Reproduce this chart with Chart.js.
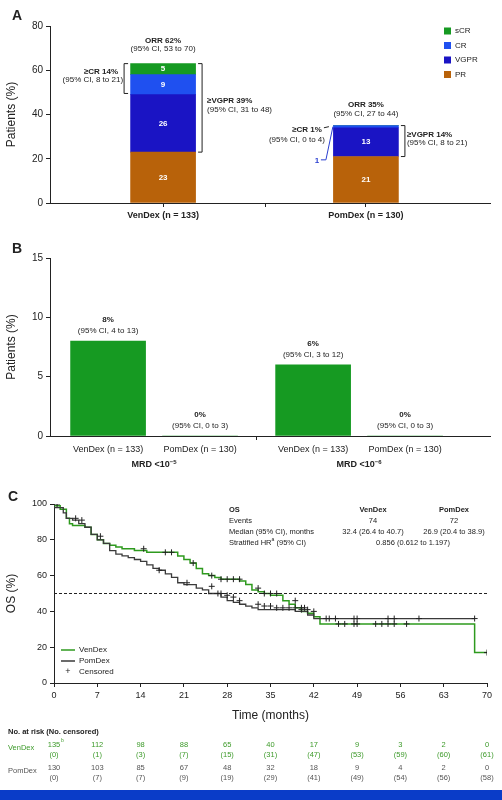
<!DOCTYPE html><html><head><meta charset="utf-8">
<script src="https://cdn.jsdelivr.net/npm/chart.js@4"></script>
<style>body{margin:0;background:#fff;width:502px;height:800px;position:relative;overflow:hidden;font-family:"Liberation Sans",Arial,sans-serif}
canvas{position:absolute;left:0}#bar{position:absolute;left:0;top:790px;width:502px;height:10px;background:#0a3cc8}</style></head><body>
<div style="position:absolute;top:0;width:502px;height:240px"><canvas id="a"></canvas></div>
<div style="position:absolute;top:240px;width:502px;height:250px"><canvas id="b"></canvas></div>
<div style="position:absolute;top:490px;width:502px;height:300px"><canvas id="c"></canvas></div>
<div id="bar"></div>
<script>
// Panel A data
const armsA=['VenDex (n = 133)','PomDex (n = 130)'];
const posA=[0.257,0.718];
const PR=[23,21], VGPR=[26,13], CR=[9,1], sCR=[5,0];
// Panel B data
const labelsB=['VenDex (n = 133)','PomDex (n = 130)','VenDex (n = 133)','PomDex (n = 130)'];
const posB=[0.132,0.341,0.598,0.807];
const mrd=[8,0,6,0];
const mrdCI=['(95% CI, 4 to 13)','(95% CI, 0 to 3)','(95% CI, 3 to 12)','(95% CI, 0 to 3)'];
// Panel C data
const venT=[0,1,2,2.5,3,5,6,7,8,9,10,11,13,15,16,20,21,22,23,24,25,26,27,28,30,31,32,33,34,35,37,38,39,40,41,42,43,45,68,68.5,70];
const venS=[100,99,97,92,89,88,87,83,80,78,77,76,75,74,73,73,71,69,67,64,61,60,59,58,58,57,55,52,51,50,49,46,44,42,40,39,37,33,33,17,17];
const pomT=[0,1.5,2,3,4,5,6,7,8,9,10,11,12,13,14,15,16,17,18,19,20,21,23,24,25,26,27,28,29,30,31,32,33,35,39,40,41,42,43,68];
const pomS=[100,98,95,92,91,89,87,83,80,78,74,72,71,70,69,68,66,64,63,61,59,56,55,53,52,50,50,48,46,45,44,43,42,41,41,40,40,38,36,36];
const venCT=[0.5,14.5,18,19,22.5,25.5,27,28,29,30,33,34,35,36,39,40,44,46,47,48.5,49,52,53,54,55,57,70];
const venCS=[100,75,73,73,67,60,58,58,58,58,53,50,50,50,46,42,36,33,33,33,33,33,33,33,33,33,17];
const pomCT=[3.5,4.5,7.5,17,21.5,25.5,26.5,27,28,29,30,33,34,35,36,37,38,39,40,40.5,41,42,44.5,45.5,48.5,49,54,55,59,68];
const pomCS=[92,91,82,63,56,54,50,50,49,48,46,44,43,43,42,42,42,42,41,42,41,40,36,36,36,36,36,36,36,36];
const ticksC=[0,7,14,21,28,35,42,49,56,63,70];
const riskVen=['135','112','98','88','65','40','17','9','3','2','0'];
const censVen=['(0)','(1)','(3)','(7)','(15)','(31)','(47)','(53)','(59)','(60)','(61)'];
const riskPom=['130','103','85','67','48','32','18','9','4','2','0'];
const censPom=['(0)','(7)','(7)','(9)','(19)','(29)','(41)','(49)','(54)','(56)','(58)'];

const F='"Liberation Sans",Arial,sans-serif';
Chart.defaults.font.family=F;Chart.defaults.color='#222';
Chart.defaults.animation=false;
const axisGrid={drawOnChartArea:false,color:'#222',tickLength:4,tickColor:'#222',offset:false};
function txt(ctx,s,x,y,o={}){ctx.save();ctx.font=(o.b?'bold ':'')+(o.s||8)+'px '+F;ctx.fillStyle=o.c||'#222';ctx.textAlign=o.a||'center';ctx.textBaseline='middle';ctx.fillText(s,x,y);ctx.restore();}
function bracket(ctx,x,y1,y2,dir,col){ctx.save();ctx.strokeStyle=col||'#222';ctx.lineWidth=1;ctx.beginPath();ctx.moveTo(x,y1);ctx.lineTo(x+dir*4,y1);ctx.lineTo(x+dir*4,y2);ctx.lineTo(x,y2);ctx.stroke();ctx.restore();}

// Panel A
new Chart(document.getElementById('a'),{type:'bar',
data:{datasets:[
{label:'PR',data:posA.map((x,i)=>({x,y:PR[i]})),backgroundColor:'#b8620a'},
{label:'VGPR',data:posA.map((x,i)=>({x,y:VGPR[i]})),backgroundColor:'#1a14c4'},
{label:'CR',data:posA.map((x,i)=>({x,y:CR[i]})),backgroundColor:'#1f50f0'},
{label:'sCR',data:posA.map((x,i)=>({x,y:sCR[i]})),backgroundColor:'#169a22'}]},
options:{responsive:true,maintainAspectRatio:false,barThickness:65,layout:{padding:{top:26,right:12,left:0,bottom:0}},
plugins:{legend:{display:false},tooltip:{enabled:false}},
scales:{x:{type:'linear',offset:false,stacked:true,min:0,max:1,grid:axisGrid,border:{color:'#222'},
 afterBuildTicks:s=>{s.ticks=[{value:posA[0]},{value:0.49},{value:posA[1]}];},
 ticks:{font:{size:9,weight:'bold'},color:'#222',callback:v=>v===posA[0]?armsA[0]:v===posA[1]?armsA[1]:''},afterFit:s=>{s.height=37;}},
 y:{stacked:true,min:0,max:80,grid:axisGrid,border:{color:'#222'},ticks:{stepSize:20,font:{size:10}},
 title:{display:true,text:'Patients (%)',font:{size:12}},afterFit:s=>{s.width=50;}}}},
plugins:[{id:'annA',afterDraw(ch){const c=ch.ctx,X=ch.scales.x,Y=ch.scales.y;
 txt(c,'A',12,16,{b:true,s:14,a:'left'});
 const seg=[['PR',PR],['VGPR',VGPR],['CR',CR],['sCR',sCR]];
 posA.forEach((p,i)=>{let acc=0;const x=X.getPixelForValue(p);seg.forEach(([n,arr])=>{const v=arr[i];if(v>=3)txt(c,String(v),x,Y.getPixelForValue(acc+v/2),{b:true,s:8,c:'#fff'});acc+=v;});});
 const v0=X.getPixelForValue(posA[0]),v1=X.getPixelForValue(posA[1]),hw=33;
 txt(c,'ORR 62%',v0,Y.getPixelForValue(73.5),{b:true});txt(c,'(95% CI, 53 to 70)',v0,Y.getPixelForValue(69.5));
 bracket(c,v0-hw-2,Y.getPixelForValue(63),Y.getPixelForValue(49.5),-1);
 txt(c,'≥CR 14%',v0-hw-12,Y.getPixelForValue(59.5),{b:true,a:'right'});txt(c,'(95% CI, 8 to 21)',v0-hw-7,Y.getPixelForValue(55.5),{a:'right'});
 bracket(c,v0+hw+2,Y.getPixelForValue(63),Y.getPixelForValue(23),1);
 txt(c,'≥VGPR 39%',v0+hw+11,Y.getPixelForValue(46),{b:true,a:'left'});txt(c,'(95% CI, 31 to 48)',v0+hw+11,Y.getPixelForValue(42),{a:'left'});
 txt(c,'ORR 35%',v1,Y.getPixelForValue(44.5),{b:true});txt(c,'(95% CI, 27 to 44)',v1,Y.getPixelForValue(40.5));
 bracket(c,v1+hw+2,Y.getPixelForValue(35),Y.getPixelForValue(21),1);
 txt(c,'≥VGPR 14%',v1+hw+8,Y.getPixelForValue(31),{b:true,a:'left'});txt(c,'(95% CI, 8 to 21)',v1+hw+8,Y.getPixelForValue(27),{a:'left'});
 txt(c,'≥CR 1%',v1-hw-11,Y.getPixelForValue(33),{b:true,a:'right'});txt(c,'(95% CI, 0 to 4)',v1-hw-8,Y.getPixelForValue(28.5),{a:'right'});
 c.save();c.strokeStyle='#222';c.beginPath();c.moveTo(v1-hw-9,Y.getPixelForValue(34));c.lineTo(v1-hw-4,Y.getPixelForValue(34.5));c.stroke();
 c.strokeStyle='#2a3fd0';c.beginPath();c.moveTo(v1-hw-12,Y.getPixelForValue(19.5));c.lineTo(v1-hw-7,Y.getPixelForValue(19.5));c.lineTo(v1-hw,Y.getPixelForValue(34.5));c.stroke();c.restore();
 txt(c,'1',v1-hw-16,Y.getPixelForValue(19),{b:true,c:'#2a3fd0'});
 [['sCR','#169a22'],['CR','#1f50f0'],['VGPR','#1a14c4'],['PR','#b8620a']].forEach(([n,col],k)=>{const y=31+k*14.5;c.fillStyle=col;c.fillRect(444,y-3.5,7,7);txt(c,n,455,y,{a:'left',s:8});});
}}]});

// Panel B
new Chart(document.getElementById('b'),{type:'bar',
data:{datasets:[{data:posB.map((x,i)=>({x,y:mrd[i]})),backgroundColor:'#169a22'}]},
options:{responsive:true,maintainAspectRatio:false,barThickness:75,layout:{padding:{top:18,right:12,left:0,bottom:0}},
plugins:{legend:{display:false},tooltip:{enabled:false}},
scales:{x:{type:'linear',offset:false,min:0,max:1,grid:axisGrid,border:{color:'#222'},
 afterBuildTicks:s=>{s.ticks=[{value:0.47}];},ticks:{display:false},afterFit:s=>{s.height=54;}},
 y:{min:0,max:15,grid:axisGrid,border:{color:'#222'},ticks:{stepSize:5,font:{size:10}},
 title:{display:true,text:'Patients (%)',font:{size:12}},afterFit:s=>{s.width=50;}}}},
plugins:[{id:'annB',afterDraw(ch){const c=ch.ctx,X=ch.scales.x,Y=ch.scales.y;
 txt(c,'B',12,9,{b:true,s:14,a:'left'});
 posB.forEach((p,i)=>{const x=X.getPixelForValue(p),yb=Y.getPixelForValue(mrd[i]);
  txt(c,mrd[i]+'%',x,yb-21,{b:true});txt(c,mrdCI[i],x,yb-10);txt(c,labelsB[i],x,Y.bottom+14,{s:9});});
 const m1=(X.getPixelForValue(posB[0])+X.getPixelForValue(posB[1]))/2,m2=(X.getPixelForValue(posB[2])+X.getPixelForValue(posB[3]))/2;
 [[m1,'5'],[m2,'6']].forEach(([m,e])=>{c.save();c.font='bold 9px '+F;const w=c.measureText('MRD <10').width;c.font='bold 6px '+F;const w2=c.measureText('−'+e).width;c.restore();
  const x0=m-(w+w2)/2;txt(c,'MRD <10',x0,Y.bottom+29,{b:true,s:9,a:'left'});txt(c,'−'+e,x0+w,Y.bottom+26,{b:true,s:6,a:'left'});});
}}]});

// Panel C
const pts=(T,S)=>T.map((t,i)=>({x:t,y:S[i]}));
new Chart(document.getElementById('c'),{type:'line',
data:{datasets:[
{data:pts(venT,venS),borderColor:'#2e9a1e',borderWidth:1.5,stepped:'after',pointRadius:0,order:2},
{data:pts(pomT,pomS),borderColor:'#3a3a3a',borderWidth:1.3,stepped:'after',pointRadius:0,order:1},
{data:pts(venCT,venCS),showLine:false,pointStyle:'cross',pointRadius:3,borderColor:'#222',borderWidth:1},
{data:pts(pomCT,pomCS),showLine:false,pointStyle:'cross',pointRadius:3,borderColor:'#222',borderWidth:1}]},
options:{responsive:true,maintainAspectRatio:false,layout:{padding:{top:14,right:15,left:0,bottom:0}},
plugins:{legend:{display:false},tooltip:{enabled:false}},
scales:{x:{type:'linear',min:0,max:70,grid:axisGrid,border:{color:'#222'},afterBuildTicks:s=>{s.ticks=ticksC.map(v=>({value:v}));},
 ticks:{font:{size:9},color:'#222',maxRotation:0},afterFit:s=>{s.height=107;}},
 y:{min:0,max:100,grid:axisGrid,border:{color:'#222'},ticks:{stepSize:20,font:{size:9}},
 title:{display:true,text:'OS (%)',font:{size:12}},afterFit:s=>{s.width=54;}}}},
plugins:[{id:'annC',afterDatasetsDraw(ch){const c=ch.ctx,X=ch.scales.x,Y=ch.scales.y;
 c.save();c.setLineDash([3,2]);c.strokeStyle='#222';c.lineWidth=1;c.beginPath();c.moveTo(X.left,Y.getPixelForValue(50));c.lineTo(X.right,Y.getPixelForValue(50));c.stroke();c.restore();
 txt(c,'C',8,7,{b:true,s:14,a:'left'});
 txt(c,'Time (months)',X.getPixelForValue(35),Y.bottom+33,{s:12});
 const r=[20,31,42,53];
 txt(c,'OS',229,r[0],{b:true,s:7.5,a:'left'});txt(c,'VenDex',373,r[0],{b:true,s:7.5});txt(c,'PomDex',454,r[0],{b:true,s:7.5});
 txt(c,'Events',229,r[1],{s:7.5,a:'left'});txt(c,'74',373,r[1],{s:7.5});txt(c,'72',454,r[1],{s:7.5});
 txt(c,'Median (95% CI), months',229,r[2],{s:7.5,a:'left'});txt(c,'32.4 (26.4 to 40.7)',373,r[2],{s:7.5});txt(c,'26.9 (20.4 to 38.9)',454,r[2],{s:7.5});
 c.save();c.font='7.5px '+F;const hw=c.measureText('Stratified HR').width;c.restore();
 txt(c,'Stratified HR',229,r[3],{s:7.5,a:'left'});txt(c,'a',229+hw,r[3]-3,{s:5,a:'left'});txt(c,'(95% CI)',229+hw+5,r[3],{s:7.5,a:'left'});txt(c,'0.856 (0.612 to 1.197)',413,r[3],{s:7.5});
 const ly=[160,171,182];
 c.save();c.lineWidth=1.5;c.strokeStyle='#2e9a1e';c.beginPath();c.moveTo(61,ly[0]);c.lineTo(75,ly[0]);c.stroke();c.strokeStyle='#3a3a3a';c.beginPath();c.moveTo(61,ly[1]);c.lineTo(75,ly[1]);c.stroke();c.restore();
 txt(c,'+',68,ly[2],{s:9});
 txt(c,'VenDex',79,ly[0],{s:8,a:'left'});txt(c,'PomDex',79,ly[1],{s:8,a:'left'});txt(c,'Censored',79,ly[2],{s:8,a:'left'});
 txt(c,'No. at risk (No. censored)',8,242,{b:true,s:7.5,a:'left'});
 const g='#3d9a2a';
 txt(c,'VenDex',8,258,{s:7.5,a:'left',c:g});txt(c,'PomDex',8,281,{s:7.5,a:'left',c:'#555'});
 ticksC.forEach((t,i)=>{const x=X.getPixelForValue(t);
  txt(c,riskVen[i],x,255,{s:7.5,c:g});txt(c,censVen[i],x,265,{s:7.5,c:g});
  txt(c,riskPom[i],x,278,{s:7.5,c:'#555'});txt(c,censPom[i],x,288,{s:7.5,c:'#555'});});
 txt(c,'b',X.getPixelForValue(0)+7,251,{s:5,a:'left',c:g});
}}]});
</script></body></html>
